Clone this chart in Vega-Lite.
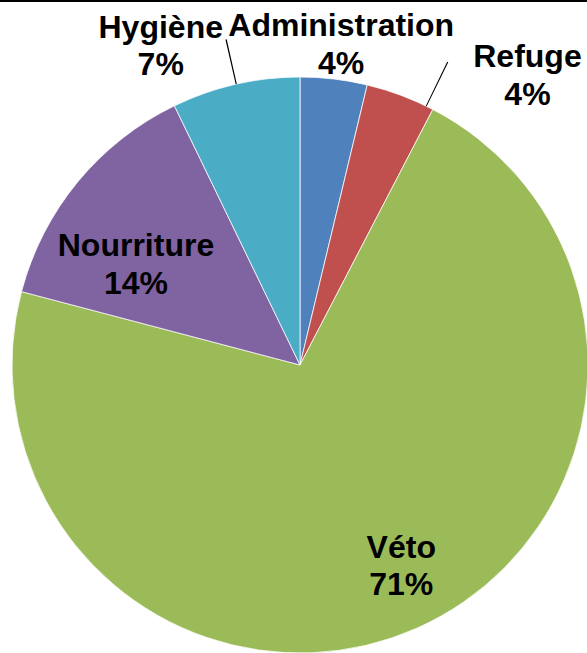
{
  "$schema": "https://vega.github.io/schema/vega-lite/v6.json",
  "width": 600,
  "height": 730,
  "autosize": "none",
  "padding": 0,
  "background": "white",
  "view": {"stroke": "black", "strokeWidth": 4, "strokeDash": [600, 4000]},
  "data": {"values": [
    {"category": "Administration", "value": 3.75},
    {"category": "Refuge", "value": 3.88},
    {"category": "Véto", "value": 71.47},
    {"category": "Nourriture", "value": 13.72},
    {"category": "Hygiène", "value": 7.18}
  ]},
  "transform": [
    {"window": [{"op": "row_number", "as": "idx"}]},
    {"calculate": "datum.category + '\\n' + round(datum.value) + '%'", "as": "label"}
  ],
  "layer": [
    {
      "mark": {"type": "arc", "outerRadius": 288, "stroke": "white", "strokeWidth": 0.75},
      "encoding": {
        "theta": {"field": "value", "type": "quantitative", "stack": true},
        "order": {"field": "idx", "type": "quantitative"},
        "color": {"field": "category", "type": "nominal", "legend": null,
          "scale": {"domain": ["Administration", "Refuge", "Véto", "Nourriture", "Hygiène"],
                    "range": ["#4F81BD", "#C0504D", "#9BBB59", "#8064A2", "#4BACC6"]}}
      }
    },
    {
      "mark": {"type": "text", "radius": 325, "dx": 3, "dy": -16, "font": "Liberation Sans", "fontWeight": "bold", "fontSize": 32, "lineHeight": 37.5, "lineBreak": "\n", "align": "center", "baseline": "middle", "color": "black"},
      "encoding": {
        "theta": {"field": "value", "type": "quantitative", "stack": true},
        "order": {"field": "idx", "type": "quantitative"},
        "detail": {"field": "category"},
        "text": {"condition": {"test": "datum.category === 'Administration'", "field": "label"}, "value": ""}
      }
    },
    {
      "mark": {"type": "text", "radius": 370, "dx": 98, "dy": 39, "font": "Liberation Sans", "fontWeight": "bold", "fontSize": 32, "lineHeight": 37.5, "lineBreak": "\n", "align": "center", "baseline": "middle", "color": "black"},
      "encoding": {
        "theta": {"field": "value", "type": "quantitative", "stack": true},
        "order": {"field": "idx", "type": "quantitative"},
        "detail": {"field": "category"},
        "text": {"condition": {"test": "datum.category === 'Refuge'", "field": "label"}, "value": ""}
      }
    },
    {
      "mark": {"type": "text", "radius": 223, "dx": 11, "dy": -21, "font": "Liberation Sans", "fontWeight": "bold", "fontSize": 32, "lineHeight": 37.5, "lineBreak": "\n", "align": "center", "baseline": "middle", "color": "black"},
      "encoding": {
        "theta": {"field": "value", "type": "quantitative", "stack": true},
        "order": {"field": "idx", "type": "quantitative"},
        "detail": {"field": "category"},
        "text": {"condition": {"test": "datum.category === 'Véto'", "field": "label"}, "value": ""}
      }
    },
    {
      "mark": {"type": "text", "radius": 193, "dx": -15, "dy": 4, "font": "Liberation Sans", "fontWeight": "bold", "fontSize": 32, "lineHeight": 37.5, "lineBreak": "\n", "align": "center", "baseline": "middle", "color": "black"},
      "encoding": {
        "theta": {"field": "value", "type": "quantitative", "stack": true},
        "order": {"field": "idx", "type": "quantitative"},
        "detail": {"field": "category"},
        "text": {"condition": {"test": "datum.category === 'Nourriture'", "field": "label"}, "value": ""}
      }
    },
    {
      "mark": {"type": "text", "radius": 350, "dx": -61, "dy": 4, "font": "Liberation Sans", "fontWeight": "bold", "fontSize": 32, "lineHeight": 37.5, "lineBreak": "\n", "align": "center", "baseline": "middle", "color": "black"},
      "encoding": {
        "theta": {"field": "value", "type": "quantitative", "stack": true},
        "order": {"field": "idx", "type": "quantitative"},
        "detail": {"field": "category"},
        "text": {"condition": {"test": "datum.category === 'Hygiène'", "field": "label"}, "value": ""}
      }
    },
    {
      "data": {"values": [{}]},
      "mark": {"type": "arc", "theta": 6.058, "theta2": 6.062, "outerRadius": 334, "innerRadius": 288, "color": "black"},
      "encoding": {}
    },
    {
      "data": {"values": [{}]},
      "mark": {"type": "arc", "theta": 0.452, "theta2": 0.4555, "outerRadius": 337, "innerRadius": 288, "color": "black"},
      "encoding": {}
    }
  ]
}
